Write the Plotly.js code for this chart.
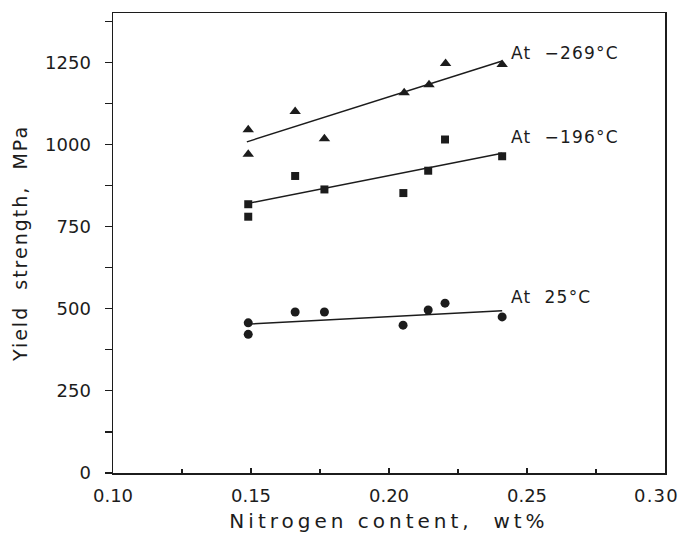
<!DOCTYPE html>
<html>
<head>
<meta charset="utf-8">
<script src="https://cdn.plot.ly/plotly-3.0.1.min.js"></script>
<style>
  html, body { margin: 0; padding: 0; background: #fff; }
  #chart { width: 680px; height: 550px; }
  .xtitle { letter-spacing: 4px; }
  .ytitle { letter-spacing: 2px; }
  .annotation-text { letter-spacing: 1.2px; }
</style>
</head>
<body>
<div id="chart"></div>
<script>
// ---- data ----
const x269 = [0.149, 0.149, 0.166, 0.1766, 0.2055, 0.2145, 0.2205, 0.241];
const y269 = [1045, 970, 1100, 1017, 1157, 1182, 1246, 1243];

const x196 = [0.149, 0.149, 0.166, 0.1766, 0.2052, 0.2142, 0.2203, 0.241];
const y196 = [818, 780, 904, 863, 852, 920, 1015, 964];

const x25 = [0.149, 0.149, 0.166, 0.1766, 0.2051, 0.2142, 0.2203, 0.241];
const y25 = [457, 422, 490, 490, 450, 496, 517, 475];

// fitted lines (end points)
const fitX = [0.1485, 0.241];
const fit269 = [1008, 1254];
const fit196 = [820, 973];
const fit25 = [453, 494];

const seriesLabels = ['At\u00a0\u00a0\u2212269°C', 'At\u00a0\u00a0\u2212196°C', 'At\u00a0\u00a025°C'];
const labelX = 0.2435;
const labelY = [1277, 1022, 535];

const xTickVals = [0.10, 0.15, 0.20, 0.25, 0.30];
const xTickText = ['0.10', '0.15', '0.20', '0.25', '0.30'];
const yTickVals = [0, 250, 500, 750, 1000, 1250];
const yTickText = ['0', '250', '500', '750', '1000', '1250'];

const ink = '#1c1c1c';
const font = 'DejaVu Sans, sans-serif';

const markerBase = { color: ink, line: { width: 0 } };

const traces = [
  { x: fitX, y: fit269, mode: 'lines', line: { color: ink, width: 1.4 }, hoverinfo: 'skip' },
  { x: fitX, y: fit196, mode: 'lines', line: { color: ink, width: 1.4 }, hoverinfo: 'skip' },
  { x: fitX, y: fit25, mode: 'lines', line: { color: ink, width: 1.4 }, hoverinfo: 'skip' },
  { x: x269, y: y269, mode: 'markers', marker: Object.assign({ symbol: 'triangle-up', size: 10 }, markerBase) },
  { x: x196, y: y196, mode: 'markers', marker: Object.assign({ symbol: 'square', size: 8 }, markerBase) },
  { x: x25, y: y25, mode: 'markers', marker: Object.assign({ symbol: 'circle', size: 9 }, markerBase) }
];

const annotations = seriesLabels.map((t, i) => ({
  x: labelX, y: labelY[i], xref: 'x', yref: 'y',
  text: t, showarrow: false, xanchor: 'left', yanchor: 'middle',
  font: { family: font, size: 17, color: ink }
}));

// the last x tick label sits at the very right edge; draw it nudged inward so it is not cut
const lastIdx = xTickVals.length - 1;
annotations.push({
  x: xTickVals[lastIdx], xref: 'x', y: -0.048, yref: 'paper',
  text: xTickText[lastIdx], showarrow: false, xanchor: 'center', yanchor: 'middle', xshift: -9,
  font: { family: font, size: 18, color: ink }
});
const xTickTextShown = xTickText.map((t, i) => (i === lastIdx ? '' : t));

const layout = {
  width: 680, height: 550,
  margin: { l: 113, r: 15, t: 13, b: 77 },
  paper_bgcolor: '#fff', plot_bgcolor: '#fff',
  showlegend: false,
  font: { family: font, color: ink },
  xaxis: {
    range: [0.10, 0.30],
    tickmode: 'array', tickvals: xTickVals, ticktext: xTickTextShown,
    ticks: 'inside', ticklen: 5, tickwidth: 1.2, tickcolor: ink,
    minor: { tickmode: 'linear', tick0: 0.10, dtick: 0.025, ticks: 'inside', ticklen: 4, tickwidth: 1.2, tickcolor: ink, showgrid: false },
    showline: true, linecolor: ink, linewidth: 1.5, mirror: true,
    showgrid: false, zeroline: false,
    tickfont: { family: font, size: 18, color: ink },
    ticklabelstandoff: 6,
    automargin: false,
    title: { text: 'Nitrogen\u00a0content,\u00a0\u00a0wt%', font: { family: font, size: 20, color: ink }, standoff: 9 }
  },
  yaxis: {
    range: [0, 1400],
    tickmode: 'array', tickvals: yTickVals, ticktext: yTickText,
    ticks: 'outside', ticklen: 7, tickwidth: 1.2, tickcolor: ink,
    minor: { tickmode: 'linear', tick0: 0, dtick: 125, ticks: 'outside', ticklen: 7, tickwidth: 1.2, tickcolor: ink, showgrid: false },
    showline: true, linecolor: ink, linewidth: 1.5, mirror: true,
    showgrid: false, zeroline: false,
    tickfont: { family: font, size: 18, color: ink },
    ticklabelstandoff: 10,
    automargin: false,
    title: { text: 'Yield\u00a0\u00a0strength,\u00a0\u00a0MPa', font: { family: font, size: 19, color: ink }, standoff: 12 }
  },
  annotations: annotations
};

Plotly.newPlot('chart', traces, layout, { staticPlot: true, displayModeBar: false });
</script>
</body>
</html>
